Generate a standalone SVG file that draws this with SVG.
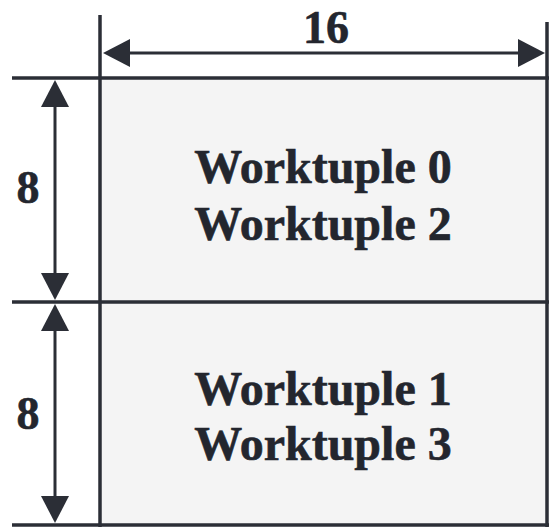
<svg xmlns="http://www.w3.org/2000/svg" width="549" height="527" viewBox="0 0 549 527">
<style>
.ln{stroke:#2b2e36;fill:none;stroke-width:3.5}
.dim{stroke:#2b2e36;fill:none;stroke-width:3}
.t{font-family:"Liberation Serif","Times New Roman",serif;font-weight:bold;fill:#23262e;stroke:#23262e;stroke-width:0.6;text-anchor:middle}
.box{fill:#f4f4f4}
</style>
<defs>
<marker id="ah" markerUnits="userSpaceOnUse" markerWidth="28" markerHeight="28" refX="0" refY="14" orient="auto-start-reverse" viewBox="0 0 28 28">
<path d="M0,0 L27,14 L0,28 z" fill="#2b2e36"/>
</marker>
</defs>
<rect width="549" height="527" fill="#ffffff"/>
<g id="block0">
<rect class="box" x="100" y="78" width="447" height="224"/>
<text class="t" x="323" y="183" font-size="48">Worktuple 0</text>
<text class="t" x="323" y="240" font-size="48">Worktuple 2</text>
</g>
<g id="block1">
<rect class="box" x="100" y="302" width="447" height="223"/>
<text class="t" x="323" y="405" font-size="48">Worktuple 1</text>
<text class="t" x="323" y="460" font-size="48">Worktuple 3</text>
</g>
<g id="frame">
<line class="ln" x1="100" y1="15" x2="100" y2="527"/>
<line class="ln" x1="547" y1="22" x2="547" y2="527"/>
<line class="ln" x1="12" y1="78" x2="549" y2="78" stroke-width="4"/>
<line class="ln" x1="12" y1="302" x2="549" y2="302"/>
<line class="ln" x1="12" y1="525" x2="549" y2="525"/>
</g>
<g id="connectors">
<line class="dim" x1="130" y1="53" x2="518" y2="53" marker-start="url(#ah)" marker-end="url(#ah)"/>
<line class="dim" x1="55" y1="107" x2="55" y2="273" marker-start="url(#ah)" marker-end="url(#ah)"/>
<line class="dim" x1="55" y1="331" x2="55" y2="496" marker-start="url(#ah)" marker-end="url(#ah)"/>
</g>
<g id="labels">
<text class="t" x="326" y="43" font-size="46">16</text>
<text class="t" x="28" y="203" font-size="46">8</text>
<text class="t" x="28" y="429" font-size="46">8</text>
</g>
</svg>
